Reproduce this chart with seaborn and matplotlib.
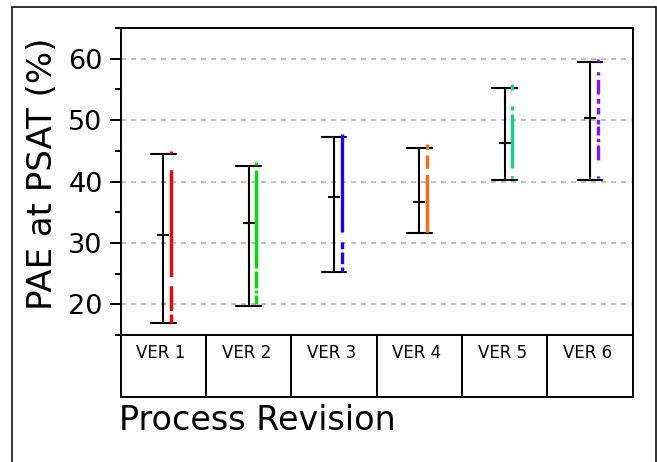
import numpy as np
import pandas as pd
import matplotlib
matplotlib.use("Agg")
import matplotlib.pyplot as plt
from matplotlib.patches import Rectangle
from matplotlib.ticker import MultipleLocator
import seaborn as sns

# Process revisions and PAE statistics (%)
revisions = ["VER 1", "VER 2", "VER 3", "VER 4", "VER 5", "VER 6"]
pae_min = [17.0, 19.8, 25.2, 31.6, 40.2, 40.2]
pae_mean = [31.3, 33.3, 37.4, 36.6, 46.3, 50.3]
pae_max = [44.4, 42.6, 47.3, 45.5, 55.3, 59.5]

# Overall spread per revision (coloured range lines)
span_lo = [17.0, 19.8, 25.2, 31.6, 40.5, 40.5]
span_hi = [45.0, 43.1, 47.8, 46.1, 55.9, 60.0]
span_colors = ["#ff0000", "#00e000", "#1a00ff", "#ff6a10", "#10d08c", "#8a10ff"]
# on/off dash lengths in pixels, drawn from the top of each range downwards
span_dashes = [
    [2.7, 16, 107, 9, 25, 3.3, 9.3],
    [3, 5, 98, 3, 17, 2, 3, 2, 9],
    [98, 10, 6.7, 3.3, 11.7, 3.3, 6],
    [5.3, 5.7, 13.3, 6, 58],
    [6, 16, 4, 4, 54, 7.7, 3.3],
    [2.7, 10, 3.3, 4.3, 14.7, 4.3, 5, 4, 6.7, 5.3, 4.7, 2, 9, 3.3, 3.3, 3.3, 15, 16, 3.3],
]

sns.set_theme(style="white")
plt.rcParams["font.family"] = ["DejaVu Sans"]
plt.rcParams["text.color"] = "black"
plt.rcParams["axes.labelcolor"] = "black"
plt.rcParams["xtick.color"] = "black"
plt.rcParams["ytick.color"] = "black"
plt.rcParams["lines.scale_dashes"] = False

W, H = 657, 462
fig = plt.figure(figsize=(W / 100, H / 100), dpi=100)
fig.patch.set_facecolor("white")

def px_x(x):
    return x / W

def px_y(y):
    return 1 - y / H

left, right, top, bottom = 120.7, 632.7, 28, 335
ax = fig.add_axes([px_x(left), px_y(bottom), px_x(right) - px_x(left), px_y(top) - px_y(bottom)])

# min / mean / max per revision in long form; the median of the three is the mean
long = pd.DataFrame({
    "rev": np.repeat(revisions, 3),
    "pae": np.column_stack([pae_min, pae_mean, pae_max]).ravel(),
})
sns.pointplot(
    data=long, x="rev", y="pae", order=revisions,
    estimator="median", errorbar=lambda v: (v.min(), v.max()),
    capsize=0.29, linestyle="none", marker="_", markersize=8,
    markeredgewidth=1.5, color="black",
    err_kws={"linewidth": 1.5, "color": "black"}, ax=ax,
)

# coloured range lines, offset to the right of each error bar
for i, (lo, hi, c, d) in enumerate(zip(span_lo, span_hi, span_colors, span_dashes)):
    ax.plot([i + 0.09, i + 0.09], [hi, lo], color=c, lw=2.4,
            dashes=[v * 0.72 for v in d], solid_capstyle="butt", dash_capstyle="butt")

ax.set_xlim(-0.5, 5.5)
ax.set_ylim(15, 65)
ax.set_yticks([20, 30, 40, 50, 60])
ax.yaxis.set_minor_locator(MultipleLocator(5))
ax.set_xticks([])
ax.set_xlabel("")
ax.tick_params(axis="y", which="major", left=True, length=8, width=1.4,
               direction="out", labelsize=19.5, pad=5)
ax.tick_params(axis="y", which="minor", left=True, length=4.3, width=1.4, direction="out")
ax.set_axisbelow(True)
ax.yaxis.grid(True, which="major", color="#b4b4b4", lw=1.2, linestyle=(0, (3.6, 3.6)))
ax.xaxis.grid(False)
for s in ax.spines.values():
    s.set_visible(True)
    s.set_color("black")
    s.set_linewidth(1.4)

ax.set_ylabel("PAE at PSAT (%)", fontsize=24.5, va="center", ha="center")
ax.yaxis.set_label_coords((42.5 - left) / (right - left), (bottom - 173.5) / (bottom - top))

# category table under the plot
tb = 397
tab = fig.add_axes([px_x(left), px_y(tb), px_x(right) - px_x(left), px_y(bottom) - px_y(tb)])
tab.set_xlim(-0.5, 5.5)
tab.set_ylim(0, 1)
tab.set_xticks([])
tab.set_yticks([])
for s in tab.spines.values():
    s.set_visible(True)
    s.set_color("black")
    s.set_linewidth(1.4)
for b in np.arange(0.5, len(revisions) - 0.5, 1.0):
    tab.axvline(b, color="black", lw=1.4)
for i, r in enumerate(revisions):
    tab.text(i - 0.03, (tb - 358.5) / (tb - bottom), r, ha="center", va="baseline", fontsize=12)

fig.text(px_x(119), px_y(430), "Process Revision", ha="left", va="baseline", fontsize=24)

# frame around the whole graphic
fig.add_artist(Rectangle((px_x(12), -0.05), px_x(656) - px_x(12), px_y(7) + 0.05,
                         transform=fig.transFigure, fill=False, lw=1.3, ec="#222222"))

fig.savefig("out.png", dpi=100)
